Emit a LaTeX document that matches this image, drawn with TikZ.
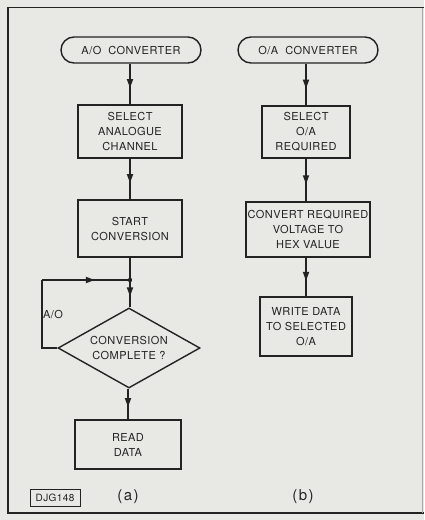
\documentclass[tikz,border=0pt]{standalone}
\usepackage{fontspec}
\setmainfont{TeX Gyre Heros}[LetterSpace=4]
\newfontfamily\widefont{TeX Gyre Heros}[LetterSpace=10]
\usetikzlibrary{shapes.geometric,arrows.meta,decorations.markings}
\definecolor{paper}{RGB}{232,232,229}
\definecolor{ink}{RGB}{35,35,35}
\tikzset{
  box/.style={draw=ink,line width=1.4pt,align=center,inner sep=0pt,
    font=\fontsize{11}{15}\selectfont,text=ink},
  term/.style={box,rounded corners=13pt,minimum height=26pt},
  dec/.style={box,shape=diamond,aspect=1.775,minimum width=142pt,minimum height=80pt},
  flow/.style={draw=ink,line width=1.7pt,postaction={decorate},
    decoration={markings,mark=at position 0.6 with {\arrow{Triangle[length=9pt,width=6pt]}}}},
  lbl/.style={font=\fontsize{11}{12}\selectfont,text=ink,inner sep=0pt},
}
\begin{document}
\begin{tikzpicture}[x=1pt,y=-1pt]
\fill[paper] (0,0) rectangle (424,520);
\useasboundingbox (0,0) rectangle (424,520);
% frame
\draw[ink,line width=1.3pt] (424,7.5) -- (8,7.5) -- (8,513) -- (424,513);
\draw[ink!40,line width=0.6pt] (422,7.5) -- (422,513);
% left column
\node[term,minimum width=140pt] (t1) at (131,50) {A/O\ \ CONVERTER};
\node[box,minimum width=104pt,minimum height=53pt] (s1) at (130,131.5) {SELECT\\ANALOGUE\\CHANNEL};
\node[box,minimum width=104pt,minimum height=57pt] (c1) at (130,228.5) {START\\CONVERSION};
\coordinate (j) at (130,280);
\node[dec] (d) at (129,348) {CONVERSION\\COMPLETE ?};
\node[box,minimum width=106pt,minimum height=49pt] (r) at (128,444.5) {READ\\DATA};
\coordinate (l1) at (42,348);
\coordinate (l2) at (42,280);
% right column
\node[term,minimum width=140pt] (t2) at (308,50) {O/A\ \ CONVERTER};
\node[box,minimum width=88pt,minimum height=52pt] (s2) at (306,132) {SELECT\\O/A\\REQUIRED};
\node[box,minimum width=124pt,minimum height=55pt] (c2) at (308,229.5) {CONVERT REQUIRED\\VOLTAGE TO\\HEX VALUE};
\node[box,minimum width=92pt,minimum height=59pt] (w) at (306,326.5) {WRITE DATA\\TO SELECTED\\O/A};
% connectors
\draw[flow] (t1.south -| s1.north) -- (s1.north);
\draw[flow] (s1.south) -- (c1.north);
\draw[ink,line width=1.7pt] (c1.south) -- (j);
\draw[flow] (j) -- (j |- d.north);
\draw[flow] (d.south -| r.north) -- (r.north);
\draw[ink,line width=1.7pt] (d.west) -- (l1) -- (l2);
\draw[flow] (l2) -- (j);
\fill[ink] (j) circle (2.2pt);
\draw[flow] (t2.south -| s2.north) -- (s2.north);
\draw[flow] (s2.south) -- (s2.south |- c2.north);
\draw[flow] (c2.south -| w.north) -- (w.north);
% labels
\node[lbl] (ao) at (53,314) {A/O};
\node[draw=ink,line width=0.8pt,minimum width=50pt,minimum height=17pt,inner sep=0pt,font=\fontsize{10}{10}\selectfont,text=ink] (tag) at (55,497.5) {DJG148};
\node[lbl,font=\widefont\fontsize{15}{16}\selectfont] (la) at (128,497) {(a)};
\node[lbl,font=\widefont\fontsize{15}{16}\selectfont] (lb) at (303,497) {(b)};
\end{tikzpicture}
\end{document}
